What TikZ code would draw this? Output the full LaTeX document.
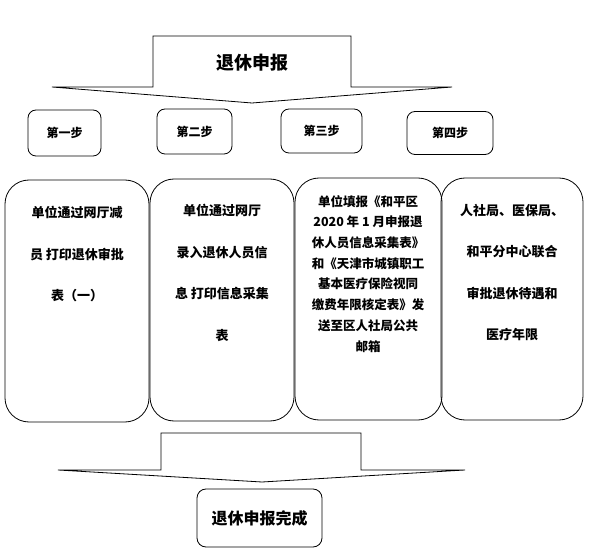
\documentclass[tikz,border=0pt]{standalone}
\usepackage{fontspec}
\setmainfont{Noto Sans CJK SC}
\usetikzlibrary{positioning}
\tikzset{
  stepbox/.style={draw, rounded corners=8pt, line width=0.8pt, font=\bfseries\fontsize{12}{14}\selectfont, inner sep=0pt},
  bigbox/.style={draw, rounded corners=24pt, line width=0.8pt, minimum height=242pt, inner sep=0pt},
  boxtext/.style={anchor=north, align=center, inner sep=0pt, font=\bfseries\fontsize{13}{41.5}\selectfont},
  densetext/.style={anchor=north, align=center, inner sep=0pt, font=\bfseries\fontsize{12.5}{20.7}\selectfont},
  blockarrow/.style={draw, line width=0.8pt, line join=miter}
}
\begin{document}
\begin{tikzpicture}[x=1pt,y=-1pt]
\useasboundingbox (0,0) rectangle (592,553);
% top block arrow
\draw[blockarrow] (153,36) -- (351,36) -- (351,87) -- (452,87) -- (252,103) -- (52,87) -- (153,87) -- cycle;
\node[font=\bfseries\fontsize{18}{20}\selectfont](T) at (252,63){退休申报};

% steps
\node[stepbox, minimum width=73pt, minimum height=46pt](S1) at (64.5,133){第一步};
\node[stepbox, minimum width=75pt, minimum height=45pt](S2) at (194.5,131.5){第二步};
\node[stepbox, minimum width=81pt, minimum height=44pt](S3) at (321.5,131){第三步};
\node[stepbox, minimum width=86pt, minimum height=43pt](S4) at (450,133){第四步};

% boxes
\node[bigbox, minimum width=144pt](B1) at (77,301){};
\node[bigbox, minimum width=144pt](B2) at (222,300){};
\node[bigbox, minimum width=147pt](B3) at (368.5,299){};
\node[bigbox, minimum width=142pt](B4) at (512,299){};

\node[boxtext](B1t) at (77,206){单位通过网厅减\\员\ 打印退休审批\\表（一）};
\node[boxtext](B2t) at (222,204){单位通过网厅\\录入退休人员信\\息\ 打印信息采集\\表};
\node[densetext](B3t) at (368,195){单位填报《和平区\\2020 年 1 月申报退\\休人员信息采集表》\\和《天津市城镇职工\\基本医疗保险视同\\缴费年限核定表》发\\送至区人社局公共\\邮箱};
\node[boxtext](B4t) at (512,204){人社局、医保局、\\和平分中心联合\\审批退休待遇和\\医疗年限};

% bottom block arrow
\draw[blockarrow] (161,433) -- (361,433) -- (361,470) -- (465,470) -- (262,482) -- (58,470) -- (161,470) -- cycle;

\node[stepbox, rounded corners=9pt, minimum width=125pt, minimum height=58pt, font=\bfseries\fontsize{16}{18}\selectfont](F) at (259.5,518){退休申报完成};
\end{tikzpicture}
\end{document}
